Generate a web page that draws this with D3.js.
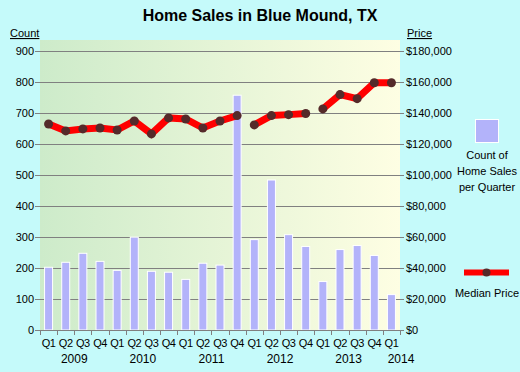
<!DOCTYPE html>
<html>
<head>
<meta charset="utf-8">
<script src="https://cdn.jsdelivr.net/npm/d3@7"></script>
<style>
  body { margin: 0; background: #c5fafa; }
  svg { display: block; font-family: Arial, "Liberation Sans", sans-serif; }
</style>
</head>
<body>
<svg id="chart" width="520" height="372"></svg>
<script>
// quarters 2009 Q1 .. 2014 Q1
var quarters = ["Q1","Q2","Q3","Q4","Q1","Q2","Q3","Q4","Q1","Q2","Q3","Q4","Q1","Q2","Q3","Q4","Q1","Q2","Q3","Q4","Q1"];
var years = ["2009","2010","2011","2012","2013","2014"];
var counts = [202, 218, 247, 221, 192, 299, 189, 186, 163, 215, 209, 756, 291, 483, 307, 269, 156, 259, 272, 240, 114];
var prices = [132700, 128200, 129500, 130100, 128800, 134600, 126300, 136600, 135900, 130100, 134600, 138100,
              132100, 138100, 138700, 139400, 142400, 151600, 149000, 159200, 159200];
// the price line is broken into these runs (index ranges)
var segments = [[0, 11], [12, 15], [16, 20]];
var countTicks = [0,100,200,300,400,500,600,700,800,900];
var priceTicks = [0,20000,40000,60000,80000,100000,120000,140000,160000,180000];

var svg = d3.select("#chart");
var plotLeft = 40, plotRight = 400, plotTop = 50.5, plotBottom = 330;

var x = d3.scaleBand().domain(d3.range(quarters.length)).range([plotLeft, plotRight]).padding(0);
var yCount = d3.scaleLinear().domain([0, 900]).range([plotBottom, plotTop]);
var yPrice = d3.scaleLinear().domain([0, 180000]).range([plotBottom, plotTop]);

//background gradient
var grad = svg.append("defs").append("linearGradient").attr("id", "bg");
grad.append("stop").attr("offset", "0%").attr("stop-color", "#cdebca");
grad.append("stop").attr("offset", "100%").attr("stop-color", "#fefee3");
svg.append("rect").attr("x", plotLeft).attr("y", 40).attr("width", plotRight - plotLeft).attr("height", plotBottom - 40)
    .attr("fill", "url(#bg)");

//title
svg.append("text").attr("x", 260).attr("y", 21).attr("text-anchor", "middle")
    .style("font-size", "16px").style("font-weight", "bold").text("Home Sales in Blue Mound, TX");

svg.append("text").attr("x", 10).attr("y", 37).style("font-size", "11px")
    .style("text-decoration", "underline").text("Count");
svg.append("text").attr("x", 407).attr("y", 37).style("font-size", "11px")
    .style("text-decoration", "underline").text("Price");

//gridlines
svg.append("g").selectAll("line").data(countTicks).enter().append("line")
    .attr("x1", 35).attr("x2", 404)
    .attr("y1", function(d){ return Math.round(yCount(d)) + 0.5; })
    .attr("y2", function(d){ return Math.round(yCount(d)) + 0.5; })
    .attr("stroke", "#808080").attr("stroke-width", 1);

//left axis labels
svg.append("g").selectAll("text").data(countTicks).enter().append("text")
    .attr("x", 34).attr("y", function(d){ return yCount(d) + 4; })
    .attr("text-anchor", "end").style("font-size", "11px").text(function(d){ return d; });

//right axis labels
var fmt = d3.format("$,");
svg.append("g").selectAll("text").data(priceTicks).enter().append("text")
    .attr("x", 406).attr("y", function(d){ return yPrice(d) + 4; })
    .style("font-size", "11px").text(function(d){ return fmt(d); });

//bars
svg.append("g").selectAll("rect").data(counts).enter().append("rect")
    .attr("x", function(d, i){ return x(i) + x.bandwidth()/2 - 4; })
    .attr("y", function(d){ return yCount(d); })
    .attr("width", 8)
    .attr("height", function(d){ return plotBottom - yCount(d); })
    .attr("fill", "#b3b3fa").attr("stroke", "#ffffff").attr("stroke-width", 1);

//x axis
svg.append("line").attr("x1", plotLeft).attr("x2", plotRight).attr("y1", plotBottom + 0.5).attr("y2", plotBottom + 0.5)
    .attr("stroke", "#808080");
svg.append("g").selectAll("line").data(d3.range(quarters.length + 1)).enter().append("line")
    .attr("x1", function(i){ return Math.round(plotLeft + i * x.step()) + 0.5; })
    .attr("x2", function(i){ return Math.round(plotLeft + i * x.step()) + 0.5; })
    .attr("y1", plotBottom).attr("y2", plotBottom + 5)
    .attr("stroke", "#808080");
svg.append("g").selectAll("text").data(quarters).enter().append("text")
    .attr("x", function(d, i){ return x(i) + x.bandwidth()/2; })
    .attr("y", 347).attr("text-anchor", "middle").style("font-size", "11px")
    .style("letter-spacing", "-0.5px")
    .text(function(d){ return d; });
svg.append("g").selectAll("text").data(years).enter().append("text")
    .attr("x", function(d, i){ return i < 5 ? plotLeft + (i*4 + 2) * x.step() : 401; })
    .attr("y", 363).attr("text-anchor", "middle").style("font-size", "12px")
    .text(function(d){ return d; });

//price line
var line = d3.line()
    .x(function(i){ return x(i) + x.bandwidth()/2; })
    .y(function(i){ return yPrice(prices[i]); });
svg.append("g").selectAll("path").data(segments).enter().append("path")
    .attr("d", function(s){ return line(d3.range(s[0], s[1] + 1)); })
    .attr("fill", "none").attr("stroke", "#ff0000").attr("stroke-width", 7);
svg.append("g").selectAll("circle").data(prices).enter().append("circle")
    .attr("cx", function(d, i){ return x(i) + x.bandwidth()/2; })
    .attr("cy", function(d){ return yPrice(d); })
    .attr("r", 4.5).attr("fill", "#552a2a");

//legend
svg.append("rect").attr("x", 475.5).attr("y", 119.5).attr("width", 23).attr("height", 23)
    .attr("fill", "#b3b3fa").attr("stroke", "#ffffff");
var legText = ["Count of", "Home Sales", "per Quarter"];
svg.append("g").selectAll("text").data(legText).enter().append("text")
    .attr("x", 487).attr("y", function(d, i){ return 159 + i * 16; })
    .attr("text-anchor", "middle").style("font-size", "11px").text(function(d){ return d; });
svg.append("line").attr("x1", 464).attr("x2", 509).attr("y1", 272.5).attr("y2", 272.5)
    .attr("stroke", "#ff0000").attr("stroke-width", 6);
svg.append("circle").attr("cx", 486.5).attr("cy", 272.5).attr("r", 4).attr("fill", "#552a2a");
svg.append("text").attr("x", 487).attr("y", 297).attr("text-anchor", "middle")
    .style("font-size", "11px").text("Median Price");
</script>
</body>
</html>
